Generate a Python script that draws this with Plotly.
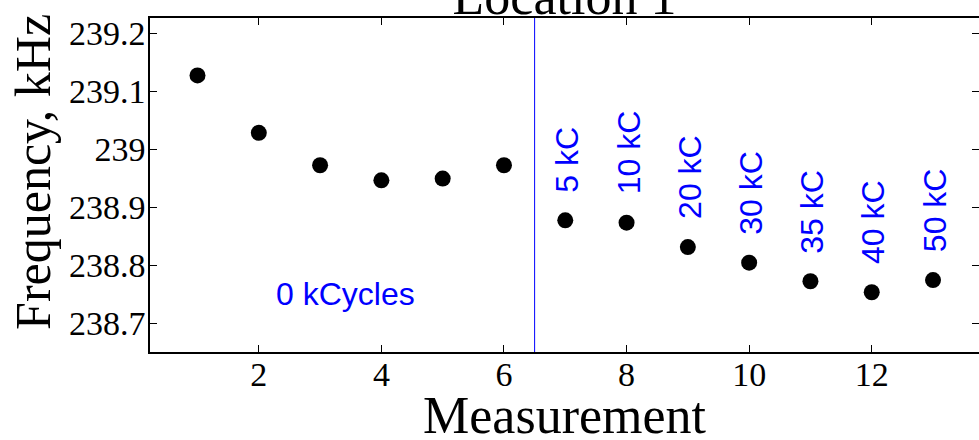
import plotly.graph_objects as go

# ---- data ----
measurement = [1, 2, 3, 4, 5, 6, 7, 8, 9, 10, 11, 12, 13]
frequency_khz = [239.127, 239.028, 238.972, 238.946, 238.949, 238.972,
                 238.877, 238.873, 238.831, 238.804, 238.772, 238.753, 238.774]
cycle_measurements = [7, 8, 9, 10, 11, 12, 13]
cycle_labels = ["5 kC", "10 kC", "20 kC", "30 kC", "35 kC", "40 kC", "50 kC"]
baseline_label = "0 kCycles"
baseline_label_pos = (2.3, 238.75)
divider_x = 6.5
x_ticks = [2, 4, 6, 8, 10, 12]
x_tick_labels = ["2", "4", "6", "8", "10", "12"]
y_ticks = [238.7, 238.8, 238.9, 239.0, 239.1, 239.2]
y_tick_labels = ["238.7", "238.8", "238.9", "239", "239.1", "239.2"]
x_range = [0.225, 13.75]
y_range = [238.65, 239.226]
title_text = "Location 1"
x_title = "Measurement"
y_title = "Frequency, kHz"

SERIF = "Liberation Serif, Times New Roman, serif"
SANS = "Liberation Sans, Arial, sans-serif"
BLUE = "#0000FF"

fig = go.Figure()
fig.add_trace(go.Scatter(
    x=measurement, y=frequency_khz, mode="markers",
    marker=dict(color="black", size=16), showlegend=False,
    hoverinfo="x+y"))

# divider line
fig.add_shape(type="line", xref="x", yref="paper", x0=divider_x, x1=divider_x,
              y0=0, y1=1, line=dict(color=BLUE, width=1))

# cycle labels (rotated)
freq_by_meas = dict(zip(measurement, frequency_khz))
for m, lab in zip(cycle_measurements, cycle_labels):
    fig.add_annotation(x=m, y=freq_by_meas[m], xref="x", yref="y", text=lab,
                       textangle=-90, showarrow=False, xanchor="center",
                       yanchor="bottom", yshift=26, xshift=2,
                       font=dict(family=SANS, size=32, color=BLUE))

fig.add_annotation(x=baseline_label_pos[0], y=baseline_label_pos[1], xref="x", yref="y",
                   text=baseline_label, showarrow=False, xanchor="left",
                   yanchor="middle", xshift=-3,
                   font=dict(family=SANS, size=32, color=BLUE))

# axis titles
fig.add_annotation(x=-0.142, y=0.54, xref="paper", yref="paper", text=y_title,
                   textangle=-90, showarrow=False, xanchor="center", yanchor="middle",
                   font=dict(family=SERIF, size=50, color="black"))
fig.add_annotation(x=0.5, y=-0.10, xref="paper", yref="paper", text=x_title,
                   showarrow=False, xanchor="center", yanchor="top",
                   font=dict(family=SERIF, size=52, color="black"))

axis_common = dict(ticks="inside", ticklen=7, tickcolor="black", tickwidth=1,
                   showgrid=False, zeroline=False,
                   tickfont=dict(family=SERIF, size=34, color="black"))

fig.update_layout(
    width=979, height=440,
    margin=dict(l=150, r=0, t=18, b=88),
    paper_bgcolor="white", plot_bgcolor="white",
    title=dict(text=title_text, x=0.5, xref="paper", xanchor="center",
               y=1 - 14 / 440, yref="container", yanchor="bottom",
               font=dict(family=SERIF, size=52, color="black")),
    xaxis=dict(range=x_range, tickvals=x_ticks, ticktext=x_tick_labels,
               showline=True, linecolor="black", linewidth=1.5,
               ticklabelstandoff=-9, **axis_common),
    xaxis2=dict(range=x_range, tickvals=x_ticks, overlaying="x", side="top",
                showticklabels=False, showline=True, linecolor="black", linewidth=1.5,
                **axis_common),
    yaxis=dict(range=y_range, tickvals=y_ticks, ticktext=y_tick_labels,
               showline=True, linecolor="black", linewidth=1.5,
               ticklabelstandoff=-4, **axis_common),
    yaxis2=dict(range=y_range, tickvals=y_ticks, overlaying="y", side="right",
                showticklabels=False, showline=False, **axis_common),
)

# invisible trace to anchor the mirrored tick axes
fig.add_trace(go.Scatter(x=[measurement[0]], y=[frequency_khz[0]], xaxis="x2", yaxis="y2",
                         mode="markers", marker=dict(opacity=0), showlegend=False,
                         hoverinfo="skip"))

fig.write_html("out.html")
